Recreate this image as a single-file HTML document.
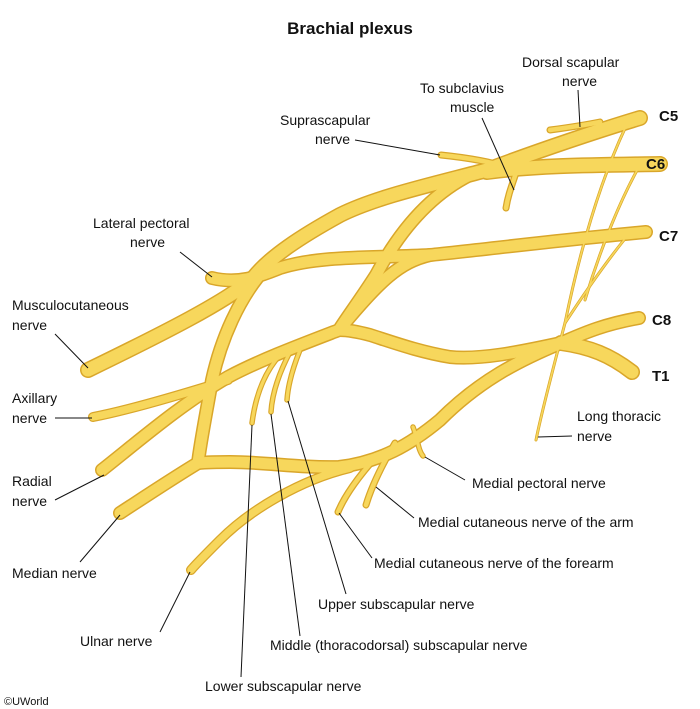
<!DOCTYPE html>
<html><head><meta charset="utf-8"><style>
html,body{margin:0;padding:0;background:#fff;}
svg{display:block;}
text{font-family:"Liberation Sans",Arial,sans-serif;font-size:14px;fill:#111;}
.b{font-weight:bold;font-size:15px;}
.n{fill:none;stroke-linecap:round;stroke-linejoin:round;}
.o{stroke:#d9a62a;}
.f{stroke:#f7d75c;}
.l{stroke:#111;stroke-width:1;fill:none;}
</style></head><body>
<svg width="700" height="709" viewBox="0 0 700 709">
<defs>
<g id="w14">
 <path d="M640,118 C600,130 540,150 487,170 C430,185 376,197 340,215 C300,237 270,257 254,277 C230,300 160,335 88,370"/>
 <path d="M660,164 C600,165 540,165 487,172"/>
 <path d="M632,372 C610,355 590,347 561,343"/>
</g>
<g id="w12">
 <path d="M646,232 C560,240 480,250 430,255 C380,258 320,255 280,268 C262,275 240,285 212,278"/>
 <path d="M639,318 C600,325 580,335 561,343 C520,352 480,360 450,357 C420,352 395,343 370,335 C355,331 345,330 339,330"/>
 <path d="M470,175 C430,195 400,230 376,275 C360,300 345,320 339,330 C300,345 260,360 228,377 C180,405 140,440 102,470"/>
 <path d="M430,255 C400,262 380,280 339,330"/>
 <path d="M258,277 C240,300 222,335 212,380 C205,420 200,445 198,463"/>
 <path d="M561,343 C520,360 480,380 440,420 C410,445 380,462 339,467 C300,468 265,462 230,462 C210,462 198,463 198,463"/>
 <path d="M198,463 C170,480 140,500 120,513"/>
</g>
<g id="w8">
 <path d="M350,468 C300,480 250,510 220,540 C205,555 195,565 191,570"/>
 <path d="M228,380 C180,395 130,410 93,417"/>
</g>
<g id="w5">
 <path d="M395,443 C382,465 372,485 366,505"/>
 <path d="M376,457 C360,475 345,495 338,512"/>
 <path d="M441,155 C470,158 495,163 510,168"/>
 <path d="M550,130 C565,128 580,126 600,122"/>
 <path d="M517,170 C512,185 508,195 506,208"/>
</g>
<g id="w4">
 <path d="M413,427 C418,440 418,450 423,456"/>
 <path d="M280,355 C262,375 255,400 252,423"/>
 <path d="M290,352 C278,375 272,395 271,412"/>
 <path d="M300,350 C292,370 288,385 287,400"/>
</g>
<g id="w2">
 <path d="M628,122 C600,180 580,250 565,323 C550,380 540,420 536,440"/>
 <path d="M640,165 C620,200 600,250 585,300"/>
 <path d="M624,240 C600,270 580,300 565,323"/>
</g>
</defs>
<g class="n o" stroke-width="16"><use href="#w14"/></g>
<g class="n o" stroke-width="14"><use href="#w12"/></g>
<g class="n o" stroke-width="10"><use href="#w8"/></g>
<g class="n o" stroke-width="7"><use href="#w5"/></g>
<g class="n o" stroke-width="5.5"><use href="#w4"/></g>
<g class="n o" stroke-width="3"><use href="#w2"/></g>
<g class="n f" stroke-width="13"><use href="#w14"/></g>
<g class="n f" stroke-width="11"><use href="#w12"/></g>
<g class="n f" stroke-width="7.5"><use href="#w8"/></g>
<g class="n f" stroke-width="4.5"><use href="#w5"/></g>
<g class="n f" stroke-width="3.2"><use href="#w4"/></g>
<g class="n f" stroke-width="1.6"><use href="#w2"/></g>

<g>
<line class="l" x1="578" y1="90" x2="580" y2="127"/>
<line class="l" x1="482" y1="118" x2="514" y2="190"/>
<line class="l" x1="355" y1="140" x2="440" y2="155"/>
<line class="l" x1="180" y1="252" x2="212" y2="277"/>
<line class="l" x1="55" y1="334" x2="88" y2="368"/>
<line class="l" x1="55" y1="418" x2="92" y2="418"/>
<line class="l" x1="55" y1="500" x2="104" y2="475"/>
<line class="l" x1="80" y1="562" x2="120" y2="515"/>
<line class="l" x1="160" y1="632" x2="190" y2="572"/>
<line class="l" x1="241" y1="677" x2="252" y2="425"/>
<line class="l" x1="300" y1="636" x2="271" y2="414"/>
<line class="l" x1="346" y1="594" x2="288" y2="401"/>
<line class="l" x1="372" y1="558" x2="339" y2="513"/>
<line class="l" x1="414" y1="518" x2="376" y2="487"/>
<line class="l" x1="465" y1="480" x2="425" y2="457"/>
<line class="l" x1="572" y1="436" x2="538" y2="437"/>
</g>

<text x="350" y="34" text-anchor="middle" class="b" style="font-size:17px">Brachial plexus</text>
<text x="522" y="67">Dorsal scapular</text>
<text x="562" y="86">nerve</text>
<text x="420" y="93">To subclavius</text>
<text x="450" y="112">muscle</text>
<text x="280" y="125">Suprascapular</text>
<text x="315" y="144">nerve</text>
<text x="659" y="121" class="b">C5</text>
<text x="646" y="169" class="b">C6</text>
<text x="659" y="241" class="b">C7</text>
<text x="652" y="325" class="b">C8</text>
<text x="652" y="381" class="b">T1</text>
<text x="93" y="228">Lateral pectoral</text>
<text x="130" y="247">nerve</text>
<text x="12" y="310">Musculocutaneous</text>
<text x="12" y="330">nerve</text>
<text x="12" y="403">Axillary</text>
<text x="12" y="423">nerve</text>
<text x="12" y="486">Radial</text>
<text x="12" y="506">nerve</text>
<text x="12" y="578">Median nerve</text>
<text x="80" y="646">Ulnar nerve</text>
<text x="205" y="691">Lower subscapular nerve</text>
<text x="270" y="650">Middle (thoracodorsal) subscapular nerve</text>
<text x="318" y="609">Upper subscapular nerve</text>
<text x="374" y="568">Medial cutaneous nerve of the forearm</text>
<text x="418" y="527">Medial cutaneous nerve of the arm</text>
<text x="472" y="488">Medial pectoral nerve</text>
<text x="577" y="421">Long thoracic</text>
<text x="577" y="441">nerve</text>
<text x="4" y="705" style="font-size:11px">©UWorld</text>
</svg>
</body></html>
